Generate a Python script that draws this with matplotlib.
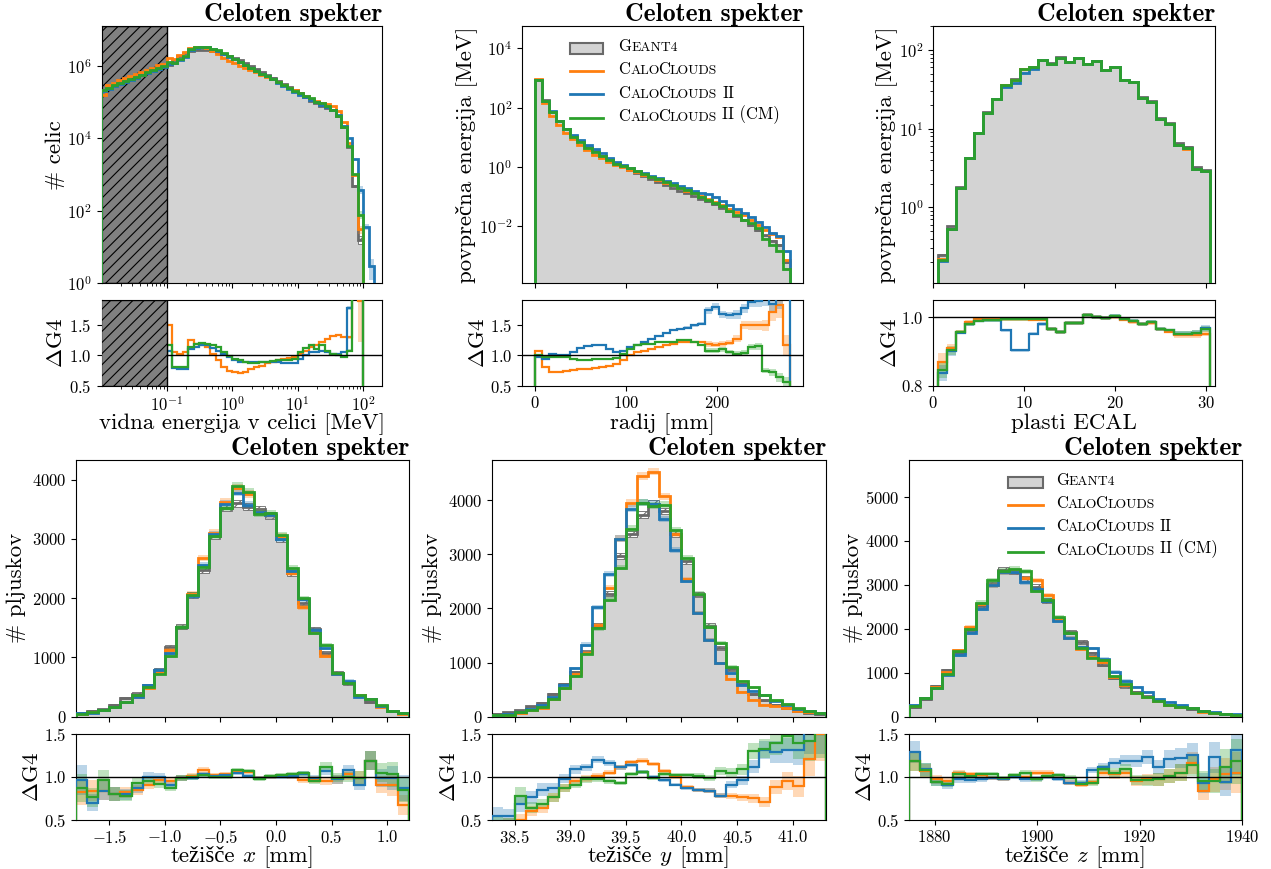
import numpy as np
import matplotlib
matplotlib.use("Agg")
import matplotlib.pyplot as plt
from matplotlib.patches import Rectangle
from matplotlib.lines import Line2D
from matplotlib.offsetbox import TextArea, HPacker, AnchoredOffsetbox

plt.rcParams['font.family'] = ['cmr10', 'Liberation Serif']
plt.rcParams['mathtext.fontset'] = 'cm'
plt.rcParams['axes.formatter.use_mathtext'] = True
plt.rcParams['xtick.labelsize'] = 12
plt.rcParams['ytick.labelsize'] = 12
plt.rcParams['axes.labelsize'] = 16.5
plt.rcParams['hatch.linewidth'] = 0.8

COLORS = {'cc': '#ff7f0e', 'cc2': '#1f77b4', 'cm': '#2ca02c'}

# ---------------- data ----------------
# visible cell energy spectrum (log bins, 12 per decade)
energy_edges = np.logspace(-2, 2.25, 52)
g4_energy = [2.14e5, 2.45e5, 2.82e5, 3.24e5, 3.72e5, 4.27e5, 4.90e5, 5.62e5, 6.46e5, 7.41e5,
             8.51e5, 9.55e5, 1.05e6, 1.45e6, 1.86e6, 2.24e6, 2.51e6, 2.69e6, 2.75e6, 2.69e6,
             2.51e6, 2.29e6, 2.04e6, 1.82e6, 1.62e6, 1.38e6, 1.17e6, 9.77e5, 8.13e5, 6.76e5,
             5.62e5, 4.68e5, 3.80e5, 3.16e5, 2.57e5, 2.14e5, 1.66e5, 1.32e5, 1.07e5, 9.12e4,
             7.76e4, 6.92e4, 5.89e4, 4.17e4, 2.09e4, 5.62e3, 480, 16]
ratio_energy_cc = [0.7, 1.2, 1.2, 1.22, 1.22, 1.22, 1.2, 1.2, 1.2, 1.18, 1.18, 1.15,
                   1.5, 1.06, 1.03, 1.06, 1.25, 1.19, 1.17, 1.14, 1.03, 0.92, 0.81, 0.75,
                   0.72, 0.71, 0.73, 0.77, 0.81, 0.83, 0.88, 0.9, 0.92, 0.94, 0.96, 0.97,
                   1.03, 1.08, 1.14, 1.17, 1.22, 1.28, 1.33, 1.34, 1.3, 1.3, 2.05, 1.9]
ratio_energy_cc2 = [0.95, 0.95, 0.95, 0.95, 0.95, 0.95, 0.95, 0.95, 0.95, 0.95, 0.95, 0.95,
                    1.08, 0.79, 0.78, 0.78, 1.1, 1.14, 1.17, 1.17, 1.12, 1.08, 1.03, 0.97,
                    0.93, 0.9, 0.89, 0.89, 0.89, 0.89, 0.89, 0.9, 0.89, 0.88, 0.88, 0.88,
                    0.94, 1.0, 1.06, 1.06, 1.07, 1.06, 1.03, 1.03, 1.06, 1.78, 5.4, 24.0]
ratio_energy_cm = [1.0, 1.0, 1.0, 1.0, 1.0, 1.0, 1.0, 1.0, 1.0, 1.0, 1.0, 1.0,
                   1.18, 0.81, 0.81, 0.81, 1.14, 1.19, 1.21, 1.19, 1.17, 1.14, 1.06, 0.99,
                   0.94, 0.92, 0.89, 0.88, 0.88, 0.89, 0.9, 0.91, 0.92, 0.93, 0.93, 0.94,
                   1.06, 1.12, 1.17, 1.11, 1.17, 1.08, 1.03, 1.0, 0.97, 1.08, 2.1, 4.9]
tail_energy_cc2 = [36, 3]

# radial profile
radius_edges = np.linspace(0, 280, 37)
g4_radius = [851, 178, 72.4, 35.5, 19.1, 11.2, 7.24, 4.79, 3.31, 2.40, 1.78, 1.35, 1.05,
             0.813, 0.631, 0.501, 0.398, 0.316, 0.251, 0.200, 0.158, 0.129, 0.105, 0.0851,
             0.0692, 0.0550, 0.0427, 0.0316, 0.0229, 0.0158, 0.0110, 0.00741, 0.00501,
             0.00331, 0.00229, 0.000631]
unc_radius = [0.006, 0.006, 0.006, 0.006, 0.006, 0.006, 0.006, 0.006, 0.006, 0.006, 0.006, 0.006,
              0.006, 0.006, 0.006, 0.006, 0.006, 0.006, 0.006, 0.006, 0.01, 0.01, 0.01, 0.01,
              0.025, 0.025, 0.025, 0.025, 0.03, 0.03, 0.035, 0.035, 0.045, 0.06, 0.08, 0.1]
ratio_radius_cc = [1.08, 0.81, 0.72, 0.73, 0.75, 0.76, 0.77, 0.78, 0.79, 0.81, 0.82, 0.86,
                   0.92, 1.0, 1.06, 1.08, 1.11, 1.14, 1.17, 1.19, 1.22, 1.23, 1.22, 1.22,
                   1.19, 1.18, 1.19, 1.21, 1.28, 1.5, 1.5, 1.5, 1.5, 1.72, 1.83, 1.17]
ratio_radius_cc2 = [0.97, 0.94, 1.03, 1.0, 1.0, 1.06, 1.12, 1.16, 1.17, 1.18, 1.11, 1.06,
                    1.08, 1.14, 1.18, 1.22, 1.28, 1.33, 1.38, 1.42, 1.44, 1.46, 1.5, 1.53,
                    1.75, 1.81, 1.68, 1.67, 1.68, 1.78, 1.89, 1.9, 1.95, 1.86, 2.0, 2.3]
ratio_radius_cm = [1.0, 0.97, 0.97, 0.97, 0.98, 0.94, 0.93, 0.93, 0.94, 0.94, 0.94, 0.96,
                   1.03, 1.11, 1.17, 1.19, 1.19, 1.22, 1.23, 1.23, 1.25, 1.25, 1.22, 1.17,
                   1.08, 1.08, 1.1, 1.06, 1.03, 1.04, 1.14, 1.15, 0.75, 0.72, 0.64, 0.56]

# longitudinal profile (ECAL layers 1..30)
layer_edges = np.arange(0.5, 31.0, 1.0)
g4_layer = [0.25, 0.58, 1.83, 4.29, 8.9, 16.1, 23.7, 35.7, 42.2, 57.3, 60.3, 75.4, 68.2, 82.3,
            71.1, 80.2, 65.7, 72.0, 56.0, 61.0, 41.9, 39.4, 25.0, 22.3, 13.6, 11.9, 6.6, 5.9,
            3.25, 3.0]
unc_layer = [0.02, 0.01, 0.004, 0.004, 0.004, 0.004, 0.004, 0.004, 0.004, 0.004, 0.004, 0.004,
             0.004, 0.004, 0.004, 0.004, 0.004, 0.004, 0.004, 0.004, 0.004, 0.004, 0.004, 0.004,
             0.004, 0.004, 0.006, 0.006, 0.006, 0.006]
ratio_layer_cc = [0.87, 0.91, 0.957, 0.985, 0.995, 0.995, 0.995, 0.995, 0.995, 0.995, 0.993,
                  0.993, 0.966, 0.957, 0.983, 0.983, 1.005, 1.0, 0.998, 1.0, 0.993, 0.986, 0.98,
                  0.984, 0.964, 0.958, 0.947, 0.947, 0.947, 0.952]
ratio_layer_cc2 = [0.836, 0.9, 0.955, 0.98, 0.99, 0.992, 0.992, 0.961, 0.903, 0.903, 0.952,
                   0.981, 0.966, 0.957, 0.983, 0.983, 1.005, 1.0, 0.998, 1.002, 0.995, 0.988,
                   0.981, 0.986, 0.966, 0.961, 0.952, 0.952, 0.954, 0.968]
ratio_layer_cm = [0.845, 0.903, 0.957, 0.981, 0.99, 0.992, 0.992, 0.995, 0.995, 0.995, 0.995,
                  0.995, 0.966, 0.957, 0.983, 0.983, 1.005, 1.0, 0.998, 1.002, 0.995, 0.988,
                  0.981, 0.986, 0.966, 0.961, 0.952, 0.952, 0.954, 0.966]

# centre of gravity x
cogx_edges = np.linspace(-1.8, 1.2, 31)
g4_cogx = [60, 95, 124, 200, 310, 390, 530, 790, 1180, 1520, 2050, 2480, 3045, 3520, 3600,
           3540, 3495, 3400, 3005, 2430, 1920, 1480, 1080, 740, 560, 365, 250, 180, 100, 70]
ratio_cogx_cc = [0.82, 0.84, 0.84, 0.8, 0.82, 0.85, 0.91, 0.96, 0.95, 0.99, 1.01, 1.08, 1.02,
                 1.03, 1.07, 1.06, 0.99, 1.0, 1.01, 1.0, 0.96, 0.97, 0.95, 0.97, 1.03, 0.99,
                 1.19, 0.91, 0.9, 0.67]
ratio_cogx_cc2 = [0.96, 0.7, 0.84, 0.8, 0.8, 0.87, 1.0, 1.0, 0.91, 0.99, 0.99, 1.03, 1.01,
                  1.02, 1.05, 1.01, 0.99, 1.0, 1.0, 1.01, 1.03, 0.99, 1.07, 0.97, 1.08, 0.91,
                  1.19, 0.99, 0.99, 0.87]
ratio_cogx_cm = [0.87, 0.76, 0.96, 0.8, 0.78, 0.93, 0.95, 0.92, 0.87, 0.99, 1.0, 1.02, 1.0,
                 1.0, 1.08, 1.07, 0.98, 1.01, 1.02, 1.03, 1.04, 0.95, 1.12, 0.99, 1.0, 0.99,
                 1.19, 1.05, 1.03, 0.85]

# centre of gravity y
cogy_edges = np.linspace(38.3, 41.3, 31)
g4_cogy = [55, 85, 120, 190, 260, 420, 600, 820, 1200, 1680, 2270, 2960, 3370, 3730, 3935,
           3800, 3380, 2880, 2250, 1680, 1265, 880, 600, 420, 300, 220, 160, 110, 75, 45]
ratio_cogy_cc = [0.4, 0.45, 0.5, 0.6, 0.64, 0.76, 0.87, 0.95, 0.98, 1.01, 1.05, 1.11, 1.17,
                 1.19, 1.15, 1.07, 1.0, 0.88, 0.85, 0.84, 0.78, 0.78, 0.76, 0.75, 0.71, 0.88,
                 0.95, 0.89, 1.21, 1.5]
ratio_cogy_cc2 = [0.54, 0.54, 0.68, 0.76, 0.85, 0.87, 0.98, 1.09, 1.11, 1.2, 1.16, 1.11, 1.14,
                  1.06, 1.0, 0.96, 0.91, 0.87, 0.85, 0.84, 0.78, 0.91, 0.96, 1.12, 1.31, 1.29,
                  1.31, 1.31, 1.51, 1.6]
ratio_cogy_cm = [0.45, 0.45, 0.78, 0.64, 0.68, 0.76, 0.87, 0.91, 0.97, 0.97, 0.95, 0.93, 1.03,
                 1.06, 0.99, 1.03, 1.02, 1.02, 1.01, 0.99, 1.07, 1.05, 1.09, 1.3, 1.33, 1.39,
                 1.48, 1.4, 1.42, 1.55]

# centre of gravity z
cogz_edges = np.linspace(1875, 1940, 31)
g4_cogz = [210, 400, 700, 1060, 1450, 1980, 2520, 3020, 3350, 3300, 3150, 2960, 2640, 2220,
           1930, 1700, 1440, 1180, 880, 690, 570, 460, 365, 270, 215, 165, 130, 92, 62, 40]
ratio_cogz_cc = [1.18, 1.07, 0.97, 0.95, 1.04, 1.03, 1.02, 0.99, 0.98, 1.01, 1.0, 1.05, 1.05,
                 0.99, 0.93, 0.91, 0.94, 1.05, 1.03, 1.05, 0.95, 0.97, 0.97, 1.01, 1.05, 1.16,
                 0.83, 0.97, 1.03, 1.05]
ratio_cogz_cc2 = [1.29, 1.09, 0.94, 0.9, 0.97, 0.96, 0.97, 0.99, 0.98, 1.0, 0.97, 0.98, 1.0,
                  0.98, 0.93, 0.93, 1.08, 1.12, 1.16, 1.19, 1.18, 1.23, 1.12, 1.21, 1.22, 1.26,
                  0.93, 1.23, 0.94, 1.31]
ratio_cogz_cm = [1.18, 1.08, 0.94, 0.92, 1.03, 1.01, 1.03, 1.03, 0.99, 1.02, 1.05, 0.97, 1.01,
                 1.02, 0.99, 0.92, 0.93, 1.09, 1.05, 1.09, 0.96, 0.96, 0.97, 1.01, 1.05, 1.14,
                 0.95, 0.95, 1.12, 1.18]

# legend labels written as small caps: (text, full size?, gap in points)
LEGEND_ROWS = [
    ('g4', [('G', 1, 0), ('EANT4', 0, 0)]),
    ('cc', [('C', 1, 0), ('ALO', 0, 0), ('C', 1, -1.5), ('LOUDS', 0, 0)]),
    ('cc2', [('C', 1, 0), ('ALO', 0, 0), ('C', 1, -1.5), ('LOUDS', 0, 0), ('II', 1, 4)]),
    ('cm', [('C', 1, 0), ('ALO', 0, 0), ('C', 1, -1.5), ('LOUDS', 0, 0), ('II (CM)', 1, 4)]),
]
SC_BIG, SC_SMALL = 12, 9.8


# ---------------- helpers ----------------
def draw_hists(ax, rax, edges, g4, ratios, rel, floor=0.0, tails=None):
    g4 = np.asarray(g4, float)
    rel = np.asarray(rel, float)
    e = np.asarray(edges, float)[:len(g4) + 1]
    ax.stairs(g4, e, baseline=floor, fill=True, color='lightgrey', lw=0, zorder=1)
    ax.stairs(g4 * (1 + rel), e, baseline=g4 * (1 - rel), fill=True, facecolor='white',
              edgecolor='dimgrey', hatch='////', lw=0.6, zorder=1.5)
    ax.stairs(g4, e, baseline=floor, color='dimgrey', lw=2, zorder=2)
    for key in ['cc', 'cc2', 'cm']:
        c = COLORS[key]
        r = np.asarray(ratios[key], float)
        m = g4 * r
        mrel = rel
        me = e
        if tails and key in tails:
            t = np.asarray(tails[key], float)
            m = np.concatenate([m, t])
            mrel = np.concatenate([rel, 1 / np.sqrt(t)])
            me = np.asarray(edges, float)[:len(m) + 1]
        ax.stairs(m * (1 + mrel), me, baseline=m * (1 - mrel), fill=True, color=c,
                  alpha=0.3, lw=0, zorder=3)
        ax.stairs(m, me, baseline=floor, color=c, lw=2, zorder=4)
        k = np.sqrt(2) * rel
        rax.stairs(r * (1 + k), e, baseline=r * (1 - k), fill=True, color=c, alpha=0.3,
                   lw=0, zorder=2)
        rax.stairs(r, e, baseline=0, color=c, lw=1.6, zorder=3)
    rax.axhline(1, color='black', lw=1, zorder=4)


def smallcaps_legend(ax, x0, x1, xt, ys):
    for (key, parts), y in zip(LEGEND_ROWS, ys):
        if key == 'g4':
            ax.add_patch(Rectangle((x0, y - 0.022), x1 - x0, 0.044, transform=ax.transAxes,
                                   facecolor='lightgrey', edgecolor='dimgrey', lw=1.5, zorder=6))
        else:
            ax.add_line(Line2D([x0, x1], [y, y], transform=ax.transAxes, color=COLORS[key],
                               lw=2, zorder=6))
        s, big, gap = parts[0]
        t = ax.text(xt, y - 0.012, s, transform=ax.transAxes, va='baseline',
                    fontsize=SC_BIG if big else SC_SMALL)
        for s, big, gap in parts[1:]:
            t = ax.annotate(s, xy=(1, 0), xycoords=t, xytext=(gap, 0),
                            textcoords='offset points', va='bottom',
                            fontsize=SC_BIG if big else SC_SMALL)


def split_xlabel(rax, pieces, y):
    areas = [TextArea(p, textprops=dict(fontsize=16.5)) for p in pieces]
    box = HPacker(children=areas, align='baseline', pad=0, sep=5)
    anch = AnchoredOffsetbox(loc='upper center', child=box, pad=0, borderpad=0,
                             frameon=False, bbox_to_anchor=(0.5, y),
                             bbox_transform=rax.transAxes)
    rax.add_artist(anch)


def make_panel(col, top):
    x, w = col
    if top:
        main, ratio = (0.674, 0.2961), (0.5562, 0.0986)
    else:
        main, ratio = (0.1753, 0.2954), (0.0567, 0.0986)
    ax = fig.add_axes([x, main[0], w, main[1]])
    rax = fig.add_axes([x, ratio[0], w, ratio[1]], sharex=ax)
    ax.tick_params(labelbottom=False)
    ax.set_title('Celoten spekter', loc='right', fontfamily='cmb10', fontsize=18.5, pad=2)
    return ax, rax


fig = plt.figure(figsize=(12.71, 8.69), dpi=100)

# ---- top left: cell energy ----
ax, rax = make_panel((0.0799, 0.2209), True)
ax.set_xscale('log')
ax.set_yscale('log')
draw_hists(ax, rax, energy_edges, g4_energy,
           {'cc': ratio_energy_cc, 'cc2': ratio_energy_cc2, 'cm': ratio_energy_cm},
           1 / np.sqrt(np.asarray(g4_energy)), floor=1e-3, tails={'cc2': tail_energy_cc2})
ax.axvspan(0.01, 0.1, facecolor='grey', edgecolor='black', hatch='///', lw=1, zorder=2.5)
rax.axvspan(0.01, 0.1, facecolor='grey', edgecolor='black', hatch='///', lw=1, zorder=5)
ax.set_xlim(0.0102, 196)
ax.set_ylim(1, 1.23e7)
ax.set_yticks([1, 1e2, 1e4, 1e6])
ax.set_ylabel('# celic', labelpad=1)
rax.set_ylabel(r'$\Delta$G4', labelpad=2)
rax.set_ylim(0.5, 1.92)
rax.set_yticks([0.5, 1.0, 1.5])
rax.set_xlabel('vidna energija v celici [MeV]')
rax.xaxis.set_label_coords(0.5, -0.32)

# ---- top middle: radial profile ----
ax, rax = make_panel((0.4107, 0.2211), True)
ax.set_yscale('log')
draw_hists(ax, rax, radius_edges, g4_radius,
           {'cc': ratio_radius_cc, 'cc2': ratio_radius_cc2, 'cm': ratio_radius_cm},
           unc_radius, floor=1e-8)
ax.set_xlim(-14, 294)
ax.set_ylim(1.2e-4, 5.6e4)
ax.set_yticks([1e-2, 1, 1e2, 1e4])
ax.set_xticks([0, 100, 200])
ax.set_ylabel('povprečna energija [MeV]', labelpad=1)
rax.set_ylabel(r'$\Delta$G4', labelpad=1.5)
rax.set_ylim(0.5, 1.92)
rax.set_yticks([0.5, 1.0, 1.5])
rax.set_xlabel('radij [mm]')
rax.xaxis.set_label_coords(0.5, -0.32)
smallcaps_legend(ax, 0.171, 0.288, 0.343, [0.913, 0.825, 0.734, 0.643])

# ---- top right: longitudinal profile ----
ax, rax = make_panel((0.7343, 0.2216), True)
ax.set_yscale('log')
draw_hists(ax, rax, layer_edges, g4_layer,
           {'cc': ratio_layer_cc, 'cc2': ratio_layer_cc2, 'cm': ratio_layer_cm},
           unc_layer, floor=1e-4)
ax.set_xlim(0, 31)
ax.set_ylim(0.108, 202)
ax.set_yticks([1, 10, 100])
ax.set_xticks([0, 10, 20, 30])
ax.set_ylabel('povprečna energija [MeV]', labelpad=1)
rax.set_ylabel(r'$\Delta$G4', labelpad=1)
rax.set_ylim(0.8, 1.05)
rax.set_yticks([0.8, 1.0])
rax.set_xlabel('plasti ECAL')
rax.xaxis.set_label_coords(0.5, -0.32)

# ---- bottom left: cog x ----
ax, rax = make_panel((0.0598, 0.2622), False)
draw_hists(ax, rax, cogx_edges, g4_cogx,
           {'cc': ratio_cogx_cc, 'cc2': ratio_cogx_cc2, 'cm': ratio_cogx_cm},
           1 / np.sqrt(np.asarray(g4_cogx, float)))
ax.set_xlim(-1.8, 1.2)
ax.set_ylim(0, 4330)
ax.set_yticks([0, 1000, 2000, 3000, 4000])
ax.set_xticks([-1.5, -1.0, -0.5, 0.0, 0.5, 1.0])
ax.set_ylabel('# pljuskov')
rax.set_ylabel(r'$\Delta$G4', labelpad=1)
rax.set_ylim(0.5, 1.5)
rax.set_yticks([0.5, 1.0, 1.5])
split_xlabel(rax, ['težišče', '$x$', '[mm]'], -0.31)

# ---- bottom middle: cog y ----
ax, rax = make_panel((0.3873, 0.2626), False)
draw_hists(ax, rax, cogy_edges, g4_cogy,
           {'cc': ratio_cogy_cc, 'cc2': ratio_cogy_cc2, 'cm': ratio_cogy_cm},
           1 / np.sqrt(np.asarray(g4_cogy, float)))
ax.set_xlim(38.3, 41.3)
ax.set_ylim(0, 4740)
ax.set_yticks([0, 1000, 2000, 3000, 4000])
ax.set_xticks([38.5, 39.0, 39.5, 40.0, 40.5, 41.0])
ax.set_ylabel('# pljuskov')
rax.set_ylabel(r'$\Delta$G4', labelpad=1)
rax.set_ylim(0.5, 1.5)
rax.set_yticks([0.5, 1.0, 1.5])
split_xlabel(rax, ['težišče', '$y$', '[mm]'], -0.31)

# ---- bottom right: cog z ----
ax, rax = make_panel((0.7152, 0.2620), False)
draw_hists(ax, rax, cogz_edges, g4_cogz,
           {'cc': ratio_cogz_cc, 'cc2': ratio_cogz_cc2, 'cm': ratio_cogz_cm},
           1 / np.sqrt(np.asarray(g4_cogz, float)))
ax.set_xlim(1875, 1940)
ax.set_ylim(0, 5845)
ax.set_yticks([0, 1000, 2000, 3000, 4000, 5000])
ax.set_xticks([1880, 1900, 1920, 1940])
ax.set_ylabel('# pljuskov', labelpad=1)
rax.set_ylabel(r'$\Delta$G4', labelpad=1)
rax.set_ylim(0.5, 1.5)
rax.set_yticks([0.5, 1.0, 1.5])
split_xlabel(rax, ['težišče', '$z$', '[mm]'], -0.31)
smallcaps_legend(ax, 0.298, 0.401, 0.441, [0.913, 0.825, 0.734, 0.641])

fig.savefig('out.png', dpi=100)
